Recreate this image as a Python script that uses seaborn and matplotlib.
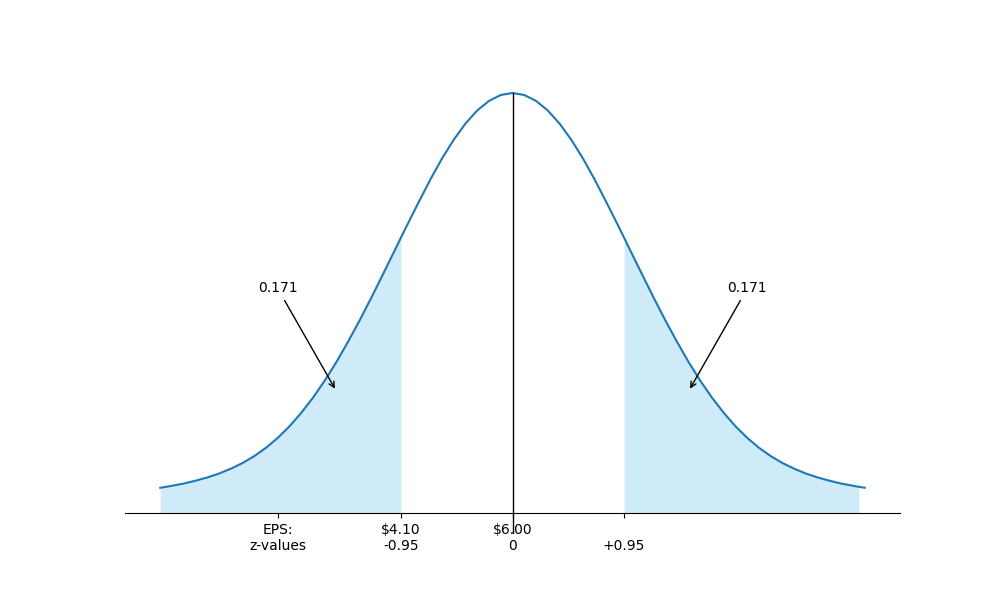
import matplotlib
matplotlib.use('Agg')
import matplotlib.pyplot as plt
import seaborn as sns

# curve (z-values and density height)
z = [-3.0, -2.95, -2.9, -2.8, -2.7, -2.6, -2.5, -2.4, -2.3, -2.2, -2.1,
     -2.0, -1.9, -1.8, -1.7, -1.6, -1.5, -1.4, -1.3, -1.2, -1.1,
     -1.0, -0.95, -0.9, -0.8, -0.7, -0.6, -0.5, -0.4, -0.3, -0.2, -0.1,
     0.0,
     0.1, 0.2, 0.3, 0.4, 0.5, 0.6, 0.7, 0.8, 0.9, 0.95, 1.0,
     1.1, 1.2, 1.3, 1.4, 1.5, 1.6, 1.7, 1.8, 1.9, 2.0,
     2.1, 2.2, 2.3, 2.4, 2.5, 2.6, 2.7, 2.8, 2.9, 2.95, 3.0]
density = [0.0240, 0.0249, 0.0259, 0.0280, 0.0307, 0.0338, 0.0375, 0.0421, 0.0475, 0.0541, 0.0620,
           0.0714, 0.0824, 0.0952, 0.1096, 0.1258, 0.1436, 0.1631, 0.1837, 0.2054, 0.2279,
           0.2506, 0.2621, 0.2734, 0.2956, 0.3173, 0.3374, 0.3553, 0.3707, 0.3831, 0.3922, 0.3978,
           0.3997,
           0.3978, 0.3922, 0.3831, 0.3707, 0.3553, 0.3374, 0.3173, 0.2956, 0.2734, 0.2621, 0.2506,
           0.2279, 0.2054, 0.1837, 0.1631, 0.1436, 0.1258, 0.1096, 0.0952, 0.0824, 0.0714,
           0.0620, 0.0541, 0.0475, 0.0421, 0.0375, 0.0338, 0.0307, 0.0280, 0.0259, 0.0249, 0.0240]

z_crit = 0.95
tail_end = 2.95
tail_area = '0.171'

tick_pos = [-2, -0.95, 0, 0.95]
tick_labels = ['EPS:\nz-values', '$4.10\n-0.95', '$6.00\n0', '\n+0.95']

fig, ax = plt.subplots(figsize=(10, 6), dpi=100)

sns.lineplot(x=z, y=density, ax=ax, color='#1f77b4', linewidth=1.5)

# shaded tails
left = [i for i, v in enumerate(z) if v <= -z_crit]
right = [i for i, v in enumerate(z) if z_crit <= v <= tail_end]
ax.fill_between([z[i] for i in left], [density[i] for i in left], 0,
                color='skyblue', alpha=0.4, linewidth=0)
ax.fill_between([z[i] for i in right], [density[i] for i in right], 0,
                color='skyblue', alpha=0.4, linewidth=0)

# mean line
ymin, ymax = ax.get_ylim()
peak = max(density)
ax.axvline(0, ymin=0, ymax=(peak - ymin) / (ymax - ymin), color='black', linewidth=1)

# tail annotations
ax.annotate(tail_area, xy=(-1.5, 0.116), xytext=(-2.0, 0.21), ha='center',
            arrowprops=dict(arrowstyle='->', color='black'))
ax.annotate(tail_area, xy=(1.5, 0.116), xytext=(2.0, 0.21), ha='center',
            arrowprops=dict(arrowstyle='->', color='black'))

ax.set_xticks(tick_pos)
ax.set_xticklabels(tick_labels)
ax.set_yticks([])
ax.spines['bottom'].set_position(('data', 0))
ax.spines['left'].set_visible(False)
ax.spines['top'].set_visible(False)
ax.spines['right'].set_visible(False)

plt.savefig('out.png', dpi=100)
